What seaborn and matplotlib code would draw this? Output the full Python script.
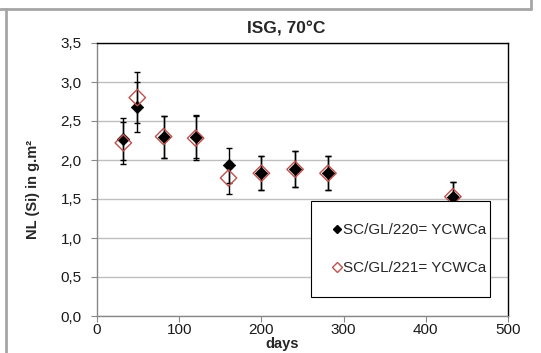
import matplotlib
matplotlib.use("Agg")
import matplotlib.pyplot as plt
from matplotlib.lines import Line2D
from matplotlib.ticker import FuncFormatter, MultipleLocator
import seaborn as sns
import pandas as pd

# ---- data ----
days = [32, 49, 81, 120, 160, 200, 241, 281, 433]
nl_220 = [2.27, 2.68, 2.30, 2.30, 1.93, 1.83, 1.88, 1.83, 1.53]
err_220 = [0.27, 0.32, 0.27, 0.28, 0.23, 0.22, 0.23, 0.22, 0.19]
nl_221 = [2.22, 2.80, 2.30, 2.28, 1.77, 1.83, 1.88, 1.83, 1.53]
err_221 = [0.27, 0.33, 0.27, 0.28, 0.21, 0.22, 0.23, 0.22, 0.19]
series_names = ["SC/GL/220= YCWCa", "SC/GL/221= YCWCa"]
title = "ISG, 70°C"
xlabel = "days"
ylabel = "NL (Si) in g.m²"

df = pd.concat([
    pd.DataFrame({"days": days, "nl": nl_220, "err": err_220, "series": series_names[0]}),
    pd.DataFrame({"days": days, "nl": nl_221, "err": err_221, "series": series_names[1]}),
], ignore_index=True)

sns.set_theme(style="white")
plt.rcParams["font.family"] = ["Liberation Sans", "DejaVu Sans"]

fig = plt.figure(figsize=(5.41, 3.53), dpi=100)
ax = fig.add_axes([97 / 541, 1 - 316 / 353, 411 / 541, 273 / 353])

red = "#c0504d"
ax.yaxis.grid(True, color="#bfbfbf", linewidth=1.0)
ax.set_axisbelow(True)

# error bars (black for both series)
for name in series_names:
    sub = df[df["series"] == name]
    ax.errorbar(sub["days"], sub["nl"], yerr=sub["err"], fmt="none",
                ecolor="black", elinewidth=1.0, capsize=2.5, capthick=1.0, zorder=2)

sub0 = df[df["series"] == series_names[0]]
sub1 = df[df["series"] == series_names[1]]
sns.scatterplot(data=sub0, x="days", y="nl", marker="D", s=40, color="black",
                edgecolor="black", linewidth=0.5, ax=ax, zorder=3, legend=False)
sns.scatterplot(data=sub1, x="days", y="nl", marker="D", s=70, facecolor="none",
                edgecolor=red, linewidth=1.0, ax=ax, zorder=4, legend=False)

ax.set_xlim(0, 500)
ax.set_ylim(0, 3.5)
ax.xaxis.set_major_locator(MultipleLocator(100))
ax.yaxis.set_major_locator(MultipleLocator(0.5))
ax.yaxis.set_major_formatter(FuncFormatter(lambda v, p: f"{v:.1f}".replace(".", ",")))
ax.set_xlabel("")
ax.set_ylabel("")
ax.tick_params(axis="both", labelsize=11, length=4, width=0.8,
               direction="out", left=True, bottom=True,
               colors="#888888", labelcolor="#1a1a1a")
ax.tick_params(axis="y", pad=7)
ax.tick_params(axis="x", pad=1)

for side in ["top", "right"]:
    ax.spines[side].set_color("black")
    ax.spines[side].set_linewidth(1.0)
for side in ["left", "bottom"]:
    ax.spines[side].set_color("#888888")
    ax.spines[side].set_linewidth(1.0)

handles = [
    Line2D([], [], linestyle="none", marker="D", markersize=4.5, color="black"),
    Line2D([], [], linestyle="none", marker="D", markersize=5.5, markerfacecolor="none",
           markeredgecolor=red, markeredgewidth=1.0),
]
leg = ax.legend(handles, series_names, loc="lower left",
                bbox_to_anchor=(0.52, 0.069, 0.436, 0.356), mode="expand",
                fontsize=11, frameon=True, fancybox=False, framealpha=1,
                edgecolor="black", labelspacing=1.55, handlelength=0.5,
                handletextpad=0.15, borderpad=1.45, borderaxespad=0)
leg.get_frame().set_linewidth(0.8)
leg.set_zorder(10)

fig.text(286 / 541, 1 - 29 / 353, title, ha="center", va="center",
         fontsize=12.5, fontweight="bold")
fig.text(282 / 541, 1 - 344 / 353, xlabel, ha="center", va="center",
         fontsize=10.5, fontweight="bold")
fig.text(33 / 541, 1 - 189 / 353, ylabel, ha="center", va="center",
         rotation=90, fontsize=10.5, fontweight="bold")

# outer chart frame (gray)
fig.add_artist(Line2D([0, 531 / 541], [1 - 9 / 353, 1 - 9 / 353],
                      transform=fig.transFigure, color="#a6a6a6", linewidth=2))
fig.add_artist(Line2D([531 / 541, 531 / 541], [1 - 9 / 353, 1.0],
                      transform=fig.transFigure, color="#a6a6a6", linewidth=2))
fig.add_artist(Line2D([5.5 / 541, 5.5 / 541], [0, 1 - 9 / 353],
                      transform=fig.transFigure, color="#a6a6a6", linewidth=2))

fig.savefig("out.png", dpi=100)
